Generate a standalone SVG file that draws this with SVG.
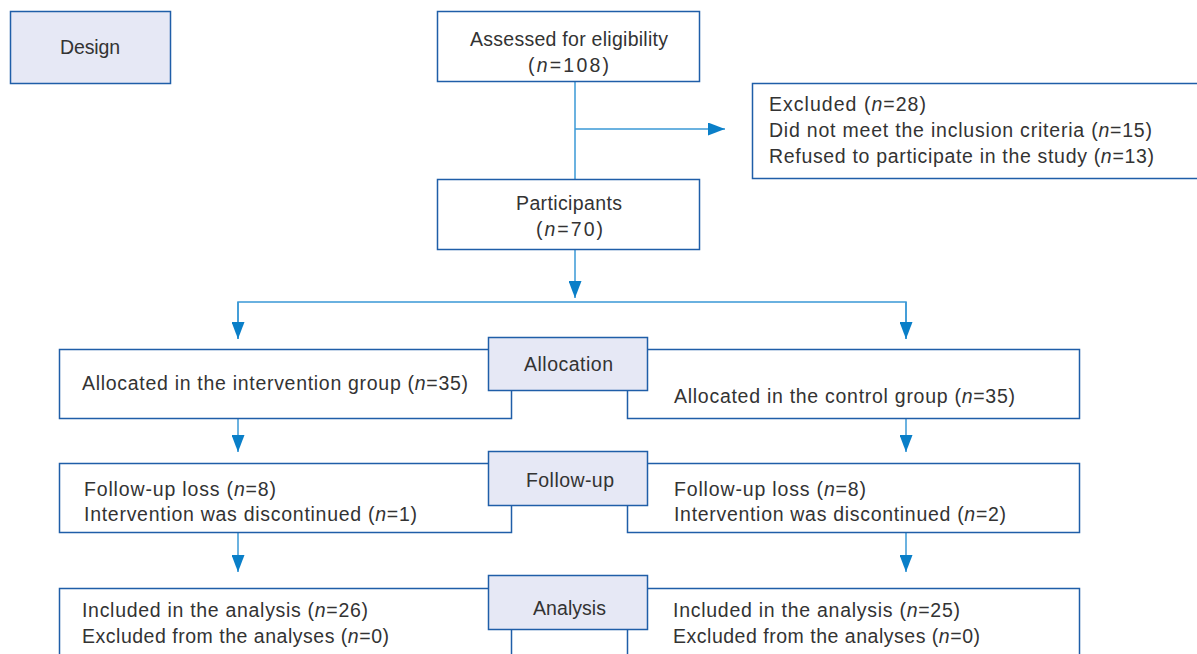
<svg xmlns="http://www.w3.org/2000/svg" width="1197" height="654" viewBox="0 0 1197 654">
<defs>
<style>
.box{fill:#ffffff;stroke:#1f5ea8;stroke-width:1.5}
.lab{fill:#e6e8f5;stroke:#1f5ea8;stroke-width:1.5}
.edge{fill:none;stroke:#3a98d6;stroke-width:1.5}
.ah{fill:#0a7fc8}
text{font-family:"Liberation Sans",Arial,sans-serif;font-size:19.5px;fill:#333333}
.c{text-anchor:middle}
.i{font-style:italic}
</style>
<marker id="arr" markerWidth="17" markerHeight="13" refX="17" refY="6.5" orient="auto" markerUnits="userSpaceOnUse" viewBox="0 0 17 13">
<path d="M0,0 L17,6.5 L0,13 Z" class="ah"/>
</marker>
</defs>
<rect width="1197" height="654" fill="#ffffff"/>

<g id="connectors">
<path class="edge" d="M575,82 V179"/>
<path class="edge" d="M575,129 H725" marker-end="url(#arr)"/>
<path class="edge" d="M575,250 V298" marker-end="url(#arr)"/>
<path class="edge" d="M238,339 V302 H906 V339"/>
<path class="edge" d="M238,302 V339" marker-end="url(#arr)"/>
<path class="edge" d="M906,302 V339" marker-end="url(#arr)"/>
<path class="edge" d="M238,419 V452" marker-end="url(#arr)"/>
<path class="edge" d="M906,419 V452" marker-end="url(#arr)"/>
<path class="edge" d="M238,533 V572" marker-end="url(#arr)"/>
<path class="edge" d="M906,533 V572" marker-end="url(#arr)"/>
</g>

<g id="design">
<rect class="lab" x="10.5" y="11.5" width="160" height="72"/>
<text class="c" x="90" y="54" textLength="60" lengthAdjust="spacing">Design</text>
</g>

<g id="assessed">
<rect class="box" x="437.5" y="11.5" width="262" height="70"/>
<text class="c" x="569" y="46" textLength="198" lengthAdjust="spacing">Assessed for eligibility</text>
<text class="c" x="568.5" y="72" textLength="81" lengthAdjust="spacing">(<tspan class="i">n</tspan>=108)</text>
</g>

<g id="excluded">
<rect class="box" x="752.5" y="83.5" width="450" height="95"/>
<text x="769" y="111" textLength="157" lengthAdjust="spacing">Excluded (<tspan class="i">n</tspan>=28)</text>
<text x="769" y="137" textLength="383" lengthAdjust="spacing">Did not meet the inclusion criteria (<tspan class="i">n</tspan>=15)</text>
<text x="769" y="163" textLength="385" lengthAdjust="spacing">Refused to participate in the study (<tspan class="i">n</tspan>=13)</text>
</g>

<g id="participants">
<rect class="box" x="437.5" y="179.5" width="262" height="70"/>
<text class="c" x="569" y="210" textLength="106" lengthAdjust="spacing">Participants</text>
<text class="c" x="569.5" y="236" textLength="67" lengthAdjust="spacing">(<tspan class="i">n</tspan>=70)</text>
</g>

<g id="alloc-int">
<rect class="box" x="59.5" y="349.5" width="452" height="69"/>
<text x="82" y="390" textLength="386" lengthAdjust="spacing">Allocated in the intervention group (<tspan class="i">n</tspan>=35)</text>
</g>
<g id="alloc-ctrl">
<rect class="box" x="627.5" y="349.5" width="452" height="69"/>
<text x="674" y="403" textLength="341" lengthAdjust="spacing">Allocated in the control group (<tspan class="i">n</tspan>=35)</text>
</g>
<g id="allocation">
<rect class="lab" x="488.5" y="337.5" width="159" height="53"/>
<text class="c" x="568.5" y="371" textLength="89" lengthAdjust="spacing">Allocation</text>
</g>

<g id="follow-int">
<rect class="box" x="59.5" y="463.5" width="452" height="69"/>
<text x="84" y="496" textLength="192" lengthAdjust="spacing">Follow-up loss (<tspan class="i">n</tspan>=8)</text>
<text x="84" y="521" textLength="333" lengthAdjust="spacing">Intervention was discontinued (<tspan class="i">n</tspan>=1)</text>
</g>
<g id="follow-ctrl">
<rect class="box" x="627.5" y="463.5" width="452" height="69"/>
<text x="674" y="496" textLength="192" lengthAdjust="spacing">Follow-up loss (<tspan class="i">n</tspan>=8)</text>
<text x="674" y="521" textLength="332" lengthAdjust="spacing">Intervention was discontinued (<tspan class="i">n</tspan>=2)</text>
</g>
<g id="followup">
<rect class="lab" x="488.5" y="451.5" width="159" height="54"/>
<text class="c" x="570" y="487" textLength="88" lengthAdjust="spacing">Follow-up</text>
</g>

<g id="analysis-int">
<rect class="box" x="59.5" y="588.5" width="452" height="80"/>
<text x="82" y="617" textLength="286" lengthAdjust="spacing">Included in the analysis (<tspan class="i">n</tspan>=26)</text>
<text x="82" y="643" textLength="307" lengthAdjust="spacing">Excluded from the analyses (<tspan class="i">n</tspan>=0)</text>
</g>
<g id="analysis-ctrl">
<rect class="box" x="627.5" y="588.5" width="452" height="80"/>
<text x="673" y="617" textLength="287" lengthAdjust="spacing">Included in the analysis (<tspan class="i">n</tspan>=25)</text>
<text x="673" y="643" textLength="307" lengthAdjust="spacing">Excluded from the analyses (<tspan class="i">n</tspan>=0)</text>
</g>
<g id="analysis">
<rect class="lab" x="488.5" y="575.5" width="159" height="54"/>
<text class="c" x="569.5" y="615" textLength="73" lengthAdjust="spacing">Analysis</text>
</g>
</svg>
